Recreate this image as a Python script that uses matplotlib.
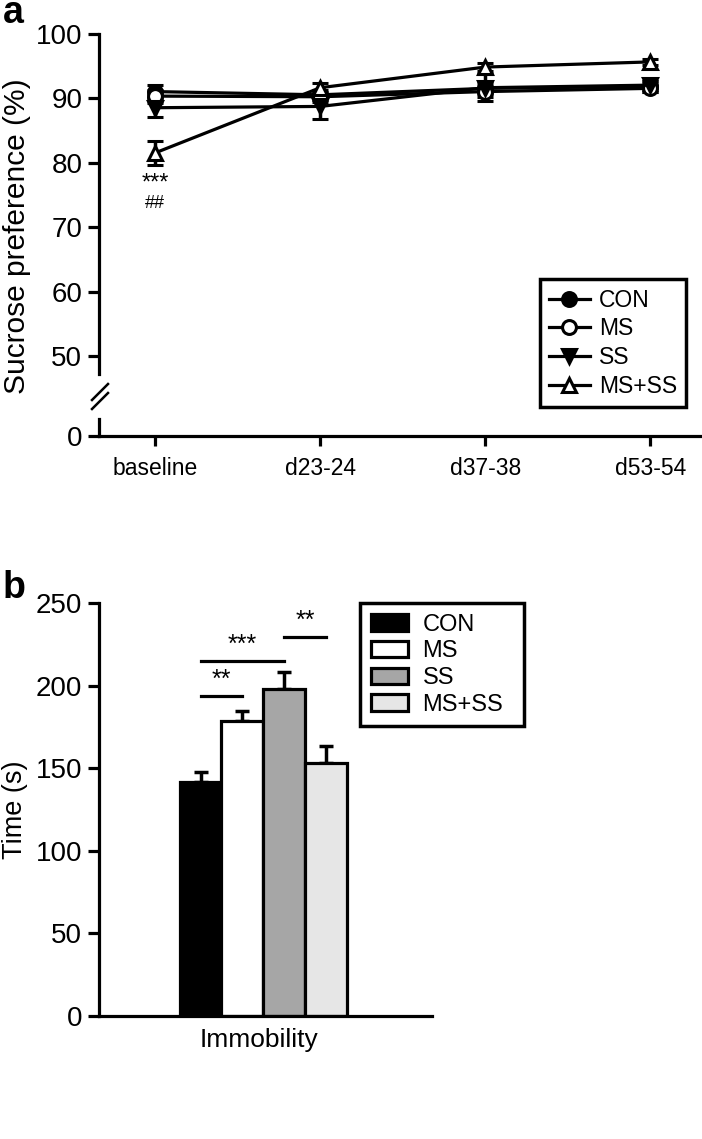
import matplotlib
matplotlib.use('Agg')
import matplotlib.pyplot as plt
from matplotlib.lines import Line2D
from matplotlib.patches import Patch

plt.rcParams['font.family'] = ['Liberation Sans', 'DejaVu Sans']

# panel a: sucrose preference
timepoints = ['baseline', 'd23-24', 'd37-38', 'd53-54']
groups = ['CON', 'MS', 'SS', 'MS+SS']
sp_mean = {
    'CON':   [91.0, 90.5, 91.5, 91.8],
    'MS':    [90.3, 90.2, 91.0, 91.5],
    'SS':    [88.5, 88.7, 91.6, 92.0],
    'MS+SS': [81.5, 91.6, 94.8, 95.6],
}
sp_err = {
    'CON':   [1.0, 0.8, 0.8, 0.8],
    'MS':    [1.0, 0.8, 0.8, 0.6],
    'SS':    [1.5, 1.9, 2.1, 0.7],
    'MS+SS': [1.9, 0.8, 0.6, 0.5],
}
markers = {'CON': 'o', 'MS': 'o', 'SS': 'v', 'MS+SS': '^'}
mfc = {'CON': 'black', 'MS': 'white', 'SS': 'black', 'MS+SS': 'white'}

# panel b: forced swim immobility
fst_mean = [141.5, 178.5, 198.0, 153.0]
fst_err = [6.0, 6.0, 10.5, 10.5]
bar_colors = ['black', 'white', '#a6a6a6', '#e6e6e6']

W, H = 702, 1139
fig = plt.figure(figsize=(W / 100, H / 100), dpi=100)


def fx(px):
    return px / W


def fy(py):
    return 1 - py / H


lw = 2.3
ppu = 6.454  # pixels per % in panel a

# ---------- panel a ----------
x = list(range(len(timepoints)))
xlim = (-0.34, 3.30)
ax_top = fig.add_axes([fx(99), fy(374), fx(700) - fx(99), fy(33.5) - fy(374)])
ax_bot = fig.add_axes([fx(99), fy(436), fx(700) - fx(99), fy(419) - fy(436)])

handles = []
for g in groups:
    ax_top.errorbar(x, sp_mean[g], yerr=sp_err[g], color='black', lw=lw,
                    marker=markers[g], markersize=10, mfc=mfc[g], mec='black',
                    mew=2.2, capsize=6, capthick=2.5, elinewidth=2.5, clip_on=False)
    handles.append(Line2D([], [], color='black', lw=lw, marker=markers[g],
                          markersize=10, mfc=mfc[g], mec='black', mew=2.2))

ax_top.set_xlim(*xlim)
ax_top.set_ylim(100 - 340.5 / ppu, 100)
ax_top.set_yticks([50, 60, 70, 80, 90, 100])
ax_top.spines[['top', 'right', 'bottom']].set_visible(False)
ax_top.spines['left'].set_linewidth(lw)
ax_top.tick_params(axis='y', length=8, width=lw, labelsize=20, pad=4)
ax_top.tick_params(axis='x', bottom=False, labelbottom=False)
ax_top.patch.set_alpha(0)

ax_bot.set_xlim(*xlim)
ax_bot.set_ylim(0, 17 / ppu)
ax_bot.set_yticks([0])
ax_bot.set_xticks(x)
ax_bot.set_xticklabels(timepoints)
ax_bot.spines[['top', 'right']].set_visible(False)
ax_bot.spines[['left', 'bottom']].set_linewidth(lw)
ax_bot.tick_params(axis='y', length=8, width=lw, labelsize=20, pad=4)
ax_bot.tick_params(axis='x', length=7, width=lw, labelsize=16.5, pad=8)
ax_bot.patch.set_alpha(0)

# axis break marks
for dy in (0, 9):
    fig.add_artist(Line2D([fx(92), fx(108)], [fy(400 + dy), fy(384 + dy)],
                          color='black', lw=1.8))

ax_top.text(0, 100 - (184 - 33.5) / ppu, '***', ha='center', va='center', fontsize=17)
ax_top.text(0, 100 - (203 - 33.5) / ppu, '##', ha='center', va='center', fontsize=13)

leg = ax_top.legend(handles, groups, loc='lower right',
                    bbox_to_anchor=(fx(686), fy(407)), bbox_transform=fig.transFigure,
                    fontsize=16.5, frameon=True, fancybox=False, framealpha=1,
                    edgecolor='black', handlelength=1.75, labelspacing=0.25,
                    handletextpad=0.4, borderpad=0.4, borderaxespad=0)
leg.get_frame().set_linewidth(2.5)

fig.text(fx(3), fy(23), 'a', fontsize=27, fontweight='bold', va='baseline')
fig.text(fx(17), fy(236), 'Sucrose preference (%)', rotation=90, fontsize=21.5,
         ha='center', va='center')

# ---------- panel b ----------
bx = list(range(len(groups)))
axb = fig.add_axes([fx(99), fy(1016), fx(432) - fx(99), fy(603) - fy(1016)])
axb.bar(bx, fst_mean, width=1.0, color=bar_colors, edgecolor='black', linewidth=lw,
        zorder=2)
axb.errorbar(bx, fst_mean, yerr=[[0] * 4, fst_err], fmt='none', ecolor='black',
             elinewidth=2.5, capsize=5, capthick=2.5, zorder=1)
axb.set_xlim(-(200.5 - 99) / 41.8, (432 - 200.5) / 41.8)
axb.set_ylim(0, 250)
axb.set_yticks([0, 50, 100, 150, 200, 250])
axb.set_xticks([1.4])
axb.set_xticklabels(['Immobility'])
axb.spines[['top', 'right']].set_visible(False)
axb.spines[['left', 'bottom']].set_linewidth(lw)
axb.tick_params(axis='y', length=8, width=lw, labelsize=20, pad=4)
axb.tick_params(axis='x', length=0, labelsize=19, pad=9)

# significance brackets
sig = [(0, 1, 194, '**'), (0, 2, 215, '***'), (2, 3, 229.5, '**')]
for a, b, yv, s in sig:
    axb.plot([a, b], [yv, yv], color='black', lw=2.3, clip_on=False)
    axb.text((a + b) / 2, yv + 2.5, s, ha='center', va='bottom', fontsize=18)

leg_b = axb.legend([Patch(facecolor=c, edgecolor='black', linewidth=lw) for c in bar_colors],
                   groups, loc='upper left',
                   bbox_to_anchor=(fx(360), fy(603), fx(524) - fx(360), 0.0),
                   mode='expand', bbox_transform=fig.transFigure, fontsize=17,
                   frameon=True, fancybox=False, framealpha=1, edgecolor='black',
                   handlelength=1.6, handleheight=0.7, labelspacing=0.2,
                   handletextpad=0.6, borderpad=0.45, borderaxespad=0)
leg_b.get_frame().set_linewidth(2.5)

fig.text(fx(3), fy(598), 'b', fontsize=27, fontweight='bold', va='baseline')
fig.text(fx(15), fy(810), 'Time (s)', rotation=90, fontsize=19.5, ha='center', va='center')

fig.savefig('out.png', dpi=100)
